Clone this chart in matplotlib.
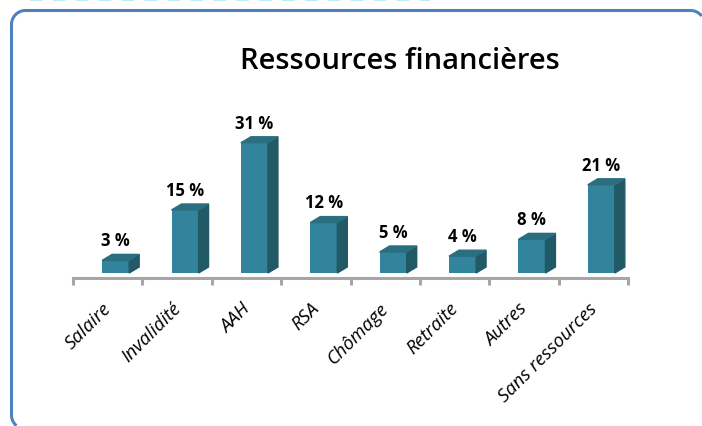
import numpy as np
import matplotlib.pyplot as plt
from matplotlib.patches import Polygon
from matplotlib.transforms import ScaledTranslation

categories = ["Salaire", "Invalidité", "AAH", "RSA", "Chômage",
              "Retraite", "Autres", "Sans ressources"]
values = [3, 15, 31, 12, 5, 4, 8, 21]

front_col = "#31849B"
side_col = "#215967"
top_col = "#2A6E80"

plt.rcParams["font.family"] = ["Open Sans", "DejaVu Sans"]
plt.rcParams["savefig.bbox"] = "standard"

fig = plt.figure(figsize=(7.02, 4.27), dpi=100)

# background axes in pixel units, used for the rounded frame
bg = fig.add_axes([0, 0, 1, 1])
bg.set_xlim(0, 702)
bg.set_ylim(427, 0)
bg.axis("off")
r = 14
xl, xr, yt, yb = 11.5, 704.5, 11.5, 430
t = np.linspace(0, np.pi / 2, 30)
# only the visible part: bottom-left arc, left side, top-left arc, top, top-right arc
fx = np.concatenate([xl + r - r * np.cos(t[::-1]),
                     xl + r - r * np.cos(t),
                     xr - r + r * np.sin(t)])
fy = np.concatenate([yb - r + r * np.sin(t[::-1]),
                     yt + r - r * np.sin(t),
                     yt + r - r * np.cos(t)])
keep = (fx < 702) & (fy < 427)
bg.plot(fx[keep], fy[keep], color="#4F81BD", linewidth=2.2,
        solid_capstyle="butt")
bg.plot([30, 430], [1, 1], color="#C5E8F5", linewidth=1.5, dashes=(6, 5))

# axes spans the category axis (pixels 73..628) and y from axis line up
ax = fig.add_axes([73 / 702, (427 - 279) / 427, 555 / 702, 179 / 427])
ax.patch.set_visible(False)
ax.set_xlim(-0.5, len(categories) - 0.5)
ax.set_ylim(-5 / 4.2, 174 / 4.2)

# 3d-ish bars: front face + side + top
left, width = -0.08, 0.39
dx, dy = 0.144, 1.43
for i, v in enumerate(values):
    x0 = i + left
    x1 = x0 + width
    ax.bar(x0, v, width=width, align="edge", color=front_col, zorder=3)
    ax.add_patch(Polygon([(x1, 0), (x1 + dx, dy), (x1 + dx, v + dy), (x1, v)],
                         closed=True, color=side_col, zorder=3))
    ax.add_patch(Polygon([(x0, v), (x0 + dx, v + dy), (x1 + dx, v + dy), (x1, v)],
                         closed=True, color=top_col, zorder=3))
    ax.text(x0 + width / 2, v + 3.6, f"{v} %", ha="center", va="baseline",
            fontsize=12, fontweight="bold", color="black")

for s in ["top", "right", "left"]:
    ax.spines[s].set_visible(False)
ax.spines["bottom"].set_color("#A6A6A6")
ax.spines["bottom"].set_linewidth(2.2)
ax.set_yticks([])

ax.set_xticks(range(len(categories)))
ax.set_xticklabels(categories, rotation=45, ha="right",
                   rotation_mode="anchor", fontsize=13.5, style="italic")
ax.tick_params(axis="x", which="major", length=0, pad=15)
shift = ScaledTranslation(-4 / 72, 0, fig.dpi_scale_trans)
for lab in ax.get_xticklabels():
    lab.set_transform(lab.get_transform() + shift)
ax.set_xticks([i - 0.5 for i in range(len(categories) + 1)], minor=True)
ax.tick_params(axis="x", which="minor", length=5, width=2.2, color="#A6A6A6")

fig.text(400 / 702, 1 - 62 / 427, "Ressources financières", ha="center",
         va="center", fontsize=21, fontweight=600, color="black")

fig.savefig("out.png", dpi=100)
